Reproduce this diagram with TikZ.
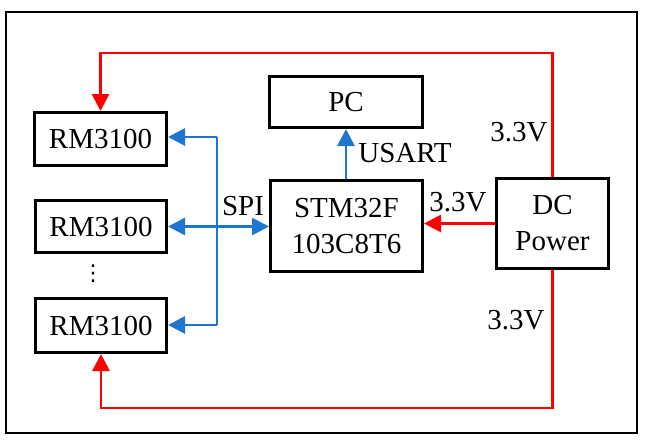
\documentclass[tikz,border=0pt]{standalone}
\usepackage{fontspec}
\setmainfont{Liberation Serif}
\newfontfamily\dejavu{DejaVu Sans}
\usetikzlibrary{arrows.meta}
\definecolor{busblue}{RGB}{30,118,208}
\definecolor{pwrred}{RGB}{255,0,0}
\begin{document}
\begin{tikzpicture}[x=1pt,y=-1pt,
  font=\fontsize{29}{36}\selectfont,
  blk/.style={draw=black,line width=3pt,inner sep=0pt,anchor=north west,align=center},
  bluearr/.style={draw=busblue,line width=2.8pt,-{Triangle[length=17pt,width=17pt]}},
  bluebi/.style={draw=busblue,line width=2.8pt,{Triangle[length=17pt,width=17pt]}-{Triangle[length=17pt,width=17pt]}},
  redarr/.style={draw=pwrred,line width=2.8pt,-{Triangle[length=17pt,width=17pt]}},
  lbl/.style={inner sep=0pt}]
\useasboundingbox (0,0) rectangle (645,444);
\draw[line width=2.4pt] (6,12) rectangle (637,433);
% blocks
\node[blk,minimum width=132pt,minimum height=53pt] (rm1) at (33,111) {RM3100};
\node[blk,minimum width=131pt,minimum height=52pt] (rm2) at (34,199) {RM3100};
\node[blk,minimum width=131pt,minimum height=54pt] (rm3) at (34,297) {RM3100};
\node[lbl,font=\dejavu\fontsize{22}{22}\selectfont] (dots) at (93,274) {⋮};
\node[blk,minimum width=153pt,minimum height=51pt] (pc) at (268,75) {PC};
\node[blk,minimum width=152pt,minimum height=91pt] (stm) at (269,179) {STM32F\\103C8T6};
\node[blk,minimum width=112pt,minimum height=90pt] (dc) at (495,177) {DC\\Power};
% SPI bus
\coordinate (busT) at (217,137);
\coordinate (busB) at (217,325);
\draw[draw=busblue,line width=2.8pt] (busT) -- (busB);
\draw[bluearr] (busT) -- (rm1.east |- busT);
\draw[bluearr] (busB) -- (rm3.east |- busB);
\draw[bluebi] (rm2.east) -- (stm.west |- rm2.east);
\node[lbl] (spi) at (243,206) {SPI};
% USART
\draw[bluearr] (stm.north -| pc.south) -- (pc.south);
\node[lbl] (usart) at (405,153) {USART};
% power
\coordinate (rtR) at (dc.north |- 0,53);
\coordinate (rtL) at (rm1.north |- 0,53);
\draw[redarr] (dc.north) -- (rtR) -- (rtL) -- (rm1.north);
\coordinate (rbR) at (dc.south |- 0,408);
\coordinate (rbL) at (rm3.south |- 0,408);
\draw[redarr] (dc.south) -- (rbR) -- (rbL) -- (rm3.south);
\draw[redarr] (dc.west) -- (stm.east |- dc.west);
\node[lbl] (v1) at (519,132) {3.3V};
\node[lbl] (v2) at (458,202) {3.3V};
\node[lbl] (v3) at (516,320) {3.3V};
\end{tikzpicture}
\end{document}
